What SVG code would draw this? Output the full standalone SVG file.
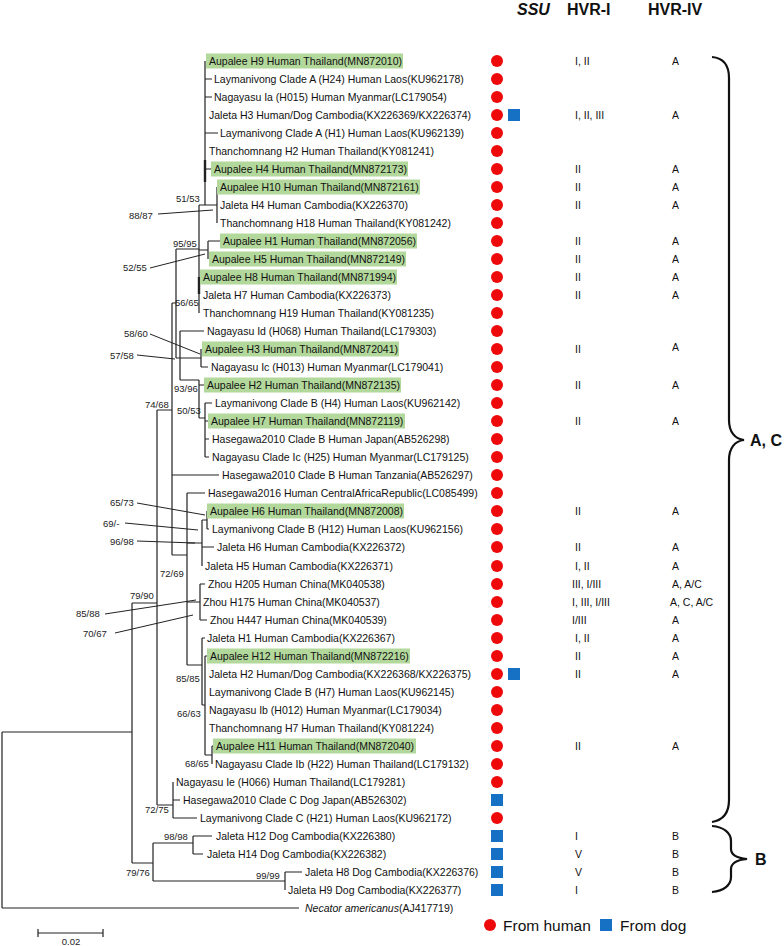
<svg xmlns="http://www.w3.org/2000/svg" xmlns:xlink="http://www.w3.org/1999/xlink" width="784" height="946" viewBox="0 0 784 946">
<style>
text{font-family:"Liberation Sans",Arial,sans-serif;fill:#111}
.t{font-size:10.5px}
.bs{font-size:9.5px;fill:#222}
.hd{font-size:16px;font-weight:bold}
.hl{fill:#b3d89c}
.e{stroke:#222;stroke-width:1.2;fill:none}
.ld{stroke:#222;stroke-width:1;fill:none}
.brc{stroke:#111;stroke-width:2.2;fill:none}
.hum{fill:#ee0a0a}
.dog{fill:#1670c4}
.lg{font-size:15.5px}
</style>
<defs>
<circle id="H" r="6" class="hum"/>
<rect id="D" x="-6" y="-6" width="12" height="12" class="dog"/>
</defs>
<rect width="784" height="946" fill="#fff"/>

<g id="headers">
<text class="hd" x="517" y="15" font-style="italic">SSU</text>
<text class="hd" x="567" y="15">HVR-I</text>
<text class="hd" x="648" y="15">HVR-IV</text>
</g>

<g id="tree" class="e">
<path d="M205,61V205M199,205H217M217,187V223M199,205V313M199,250H208M208,241V259M176,249H199M176,249V358M176,358H180M180,331V380M180,358H201M201,349V367M180,380H199M199,380V418M199,418H205M205,403V457M172,303H176M172,303V555M157,410H172M172,555H187M187,493V665M187,543H202M202,520V566M202,520H207M207,511V529M187,602H200M200,584V620M187,665H202M202,638V705M202,705H205M205,656V755M205,755H212M212,746V764M157,410V805M157,805H173M173,782V818M132,603H157M132,603V863M2,732H132M2,732V908M132,863H153M153,843V881M153,843H193M193,836V854M153,881H285M285,872V890M2,908H299"/>
<path d="M205,79H212M205,97H212M205,133H218M205,169H211M208,241H220M180,331H204M201,367H208M199,385H204M205,403H212M205,421H208M205,439H209M205,457H209M172,475H219M187,493H205M207,529H209M202,547H214M200,584H205M200,620H207M202,638H205M205,656H207M212,746H213M173,800H180M173,818H197M193,836H212M193,854H203M285,872H302"/>
<path d="M205,160V182M199,277V294" stroke-width="2.4"/>
</g>

<g id="bootstrap">
<text class="bs" x="176" y="202">51/53</text>
<text class="bs" x="129" y="219">88/87</text>
<text class="bs" x="173" y="247">95/95</text>
<text class="bs" x="123" y="271">52/55</text>
<text class="bs" x="175" y="306">56/65</text>
<text class="bs" x="124" y="337">58/60</text>
<text class="bs" x="110" y="359">57/58</text>
<text class="bs" x="174" y="392">93/96</text>
<text class="bs" x="145" y="408">74/68</text>
<text class="bs" x="177" y="414">50/53</text>
<text class="bs" x="110" y="506">65/73</text>
<text class="bs" x="103" y="527">69/-</text>
<text class="bs" x="110" y="545">96/98</text>
<text class="bs" x="160" y="577">72/69</text>
<text class="bs" x="130" y="599">79/90</text>
<text class="bs" x="76" y="617">85/88</text>
<text class="bs" x="83" y="637">70/67</text>
<text class="bs" x="176" y="682">85/85</text>
<text class="bs" x="177" y="717">66/63</text>
<text class="bs" x="185" y="767">68/65</text>
<text class="bs" x="145" y="813">72/75</text>
<text class="bs" x="164" y="840">98/98</text>
<text class="bs" x="126" y="876">79/76</text>
<text class="bs" x="256" y="879">99/99</text>
<path class="ld" d="M158,214L213,210M150,268L205,254M150,334L200,354M137,355L175,359M137,503L205,515M125,523L198,530M137,541L195,543M105,614L196,600M115,633L193,615"/>
</g>

<g id="leaf01"><rect class="hl" x="206" y="53.5" width="197" height="15"/><text class="t" x="209" y="65">Aupalee H9 Human Thailand(MN872010)</text><use href="#H" x="497" y="61"/><text class="t" x="575" y="65">I, II</text><text class="t" x="672" y="65">A</text></g>
<g id="leaf02"><text class="t" x="214" y="83">Laymanivong Clade A (H24) Human Laos(KU962178)</text><use href="#H" x="497" y="79"/></g>
<g id="leaf03"><text class="t" x="214" y="101">Nagayasu Ia (H015) Human Myanmar(LC179054)</text><use href="#H" x="497" y="97"/></g>
<g id="leaf04"><text class="t" x="209" y="119">Jaleta H3 Human/Dog Cambodia(KX226369/KX226374)</text><use href="#H" x="497" y="115"/><use href="#D" x="514" y="115"/><text class="t" x="575" y="119">I, II, III</text><text class="t" x="672" y="119">A</text></g>
<g id="leaf05"><text class="t" x="220" y="137">Laymanivong Clade A (H1) Human Laos(KU962139)</text><use href="#H" x="497" y="133"/></g>
<g id="leaf06"><text class="t" x="209" y="155">Thanchomnang H2 Human Thailand(KY081241)</text><use href="#H" x="497" y="151"/></g>
<g id="leaf07"><rect class="hl" x="211" y="161.5" width="197" height="15"/><text class="t" x="214" y="173">Aupalee H4 Human Thailand(MN872173)</text><use href="#H" x="497" y="169"/><text class="t" x="575" y="173">II</text><text class="t" x="672" y="173">A</text></g>
<g id="leaf08"><rect class="hl" x="217" y="179.5" width="203" height="15"/><text class="t" x="220" y="191">Aupalee H10 Human Thailand(MN872161)</text><use href="#H" x="497" y="187"/><text class="t" x="575" y="191">II</text><text class="t" x="672" y="191">A</text></g>
<g id="leaf09"><text class="t" x="220" y="209">Jaleta H4 Human Cambodia(KX226370)</text><use href="#H" x="497" y="205"/><text class="t" x="575" y="209">II</text><text class="t" x="672" y="209">A</text></g>
<g id="leaf10"><text class="t" x="220" y="227">Thanchomnang H18 Human Thailand(KY081242)</text><use href="#H" x="497" y="223"/></g>
<g id="leaf11"><rect class="hl" x="220" y="233.5" width="197" height="15"/><text class="t" x="223" y="245">Aupalee H1 Human Thailand(MN872056)</text><use href="#H" x="497" y="241"/><text class="t" x="575" y="245">II</text><text class="t" x="672" y="245">A</text></g>
<g id="leaf12"><rect class="hl" x="209" y="251.5" width="197" height="15"/><text class="t" x="212" y="263">Aupalee H5 Human Thailand(MN872149)</text><use href="#H" x="497" y="259"/><text class="t" x="575" y="263">II</text><text class="t" x="672" y="263">A</text></g>
<g id="leaf13"><rect class="hl" x="200" y="269.5" width="197" height="15"/><text class="t" x="203" y="281">Aupalee H8 Human Thailand(MN871994)</text><use href="#H" x="497" y="277"/><text class="t" x="575" y="281">II</text><text class="t" x="672" y="281">A</text></g>
<g id="leaf14"><text class="t" x="203" y="299">Jaleta H7 Human Cambodia(KX226373)</text><use href="#H" x="497" y="295"/><text class="t" x="575" y="299">II</text><text class="t" x="672" y="299">A</text></g>
<g id="leaf15"><text class="t" x="203" y="317">Thanchomnang H19 Human Thailand(KY081235)</text><use href="#H" x="497" y="313"/></g>
<g id="leaf16"><text class="t" x="207" y="335">Nagayasu Id (H068) Human Thailand(LC179303)</text><use href="#H" x="497" y="331"/></g>
<g id="leaf17"><rect class="hl" x="202" y="341.5" width="197" height="15"/><text class="t" x="205" y="353">Aupalee H3 Human Thailand(MN872041)</text><use href="#H" x="497" y="349"/><text class="t" x="575" y="353">II</text><text class="t" x="672" y="351">A</text></g>
<g id="leaf18"><text class="t" x="211" y="371">Nagayasu Ic (H013) Human Myanmar(LC179041)</text><use href="#H" x="497" y="367"/></g>
<g id="leaf19"><rect class="hl" x="204" y="377.5" width="197" height="15"/><text class="t" x="207" y="389">Aupalee H2 Human Thailand(MN872135)</text><use href="#H" x="497" y="385"/><text class="t" x="575" y="389">II</text><text class="t" x="672" y="389">A</text></g>
<g id="leaf20"><text class="t" x="215" y="407">Laymanivong Clade B (H4) Human Laos(KU962142)</text><use href="#H" x="497" y="403"/></g>
<g id="leaf21"><rect class="hl" x="208" y="413.5" width="197" height="15"/><text class="t" x="211" y="425">Aupalee H7 Human Thailand(MN872119)</text><use href="#H" x="497" y="421"/><text class="t" x="575" y="425">II</text><text class="t" x="672" y="425">A</text></g>
<g id="leaf22"><text class="t" x="212" y="443">Hasegawa2010 Clade B Human Japan(AB526298)</text><use href="#H" x="497" y="439"/></g>
<g id="leaf23"><text class="t" x="212" y="461">Nagayasu Clade Ic (H25) Human Myanmar(LC179125)</text><use href="#H" x="497" y="457"/></g>
<g id="leaf24"><text class="t" x="222" y="479">Hasegawa2010 Clade B Human Tanzania(AB526297)</text><use href="#H" x="497" y="475"/></g>
<g id="leaf25"><text class="t" x="208" y="497">Hasegawa2016 Human CentralAfricaRepublic(LC085499)</text><use href="#H" x="497" y="493"/></g>
<g id="leaf26"><rect class="hl" x="207" y="503.5" width="197" height="15"/><text class="t" x="210" y="515">Aupalee H6 Human Thailand(MN872008)</text><use href="#H" x="497" y="511"/><text class="t" x="575" y="515">II</text><text class="t" x="672" y="515">A</text></g>
<g id="leaf27"><text class="t" x="212" y="533">Laymanivong Clade B (H12) Human Laos(KU962156)</text><use href="#H" x="497" y="529"/></g>
<g id="leaf28"><text class="t" x="217" y="551">Jaleta H6 Human Cambodia(KX226372)</text><use href="#H" x="497" y="547"/><text class="t" x="575" y="551">II</text><text class="t" x="672" y="551">A</text></g>
<g id="leaf29"><text class="t" x="205" y="570">Jaleta H5 Human Cambodia(KX226371)</text><use href="#H" x="497" y="566"/><text class="t" x="575" y="570">I, II</text><text class="t" x="672" y="570">A</text></g>
<g id="leaf30"><text class="t" x="208" y="588">Zhou H205 Human China(MK040538)</text><use href="#H" x="497" y="584"/><text class="t" x="572" y="588">III, I/III</text><text class="t" x="672" y="588">A, A/C</text></g>
<g id="leaf31"><text class="t" x="203" y="606">Zhou H175 Human China(MK040537)</text><use href="#H" x="497" y="602"/><text class="t" x="572" y="606">I, III, I/III</text><text class="t" x="670" y="606">A, C, A/C</text></g>
<g id="leaf32"><text class="t" x="210" y="624">Zhou H447 Human China(MK040539)</text><use href="#H" x="497" y="620"/><text class="t" x="572" y="624">I/III</text><text class="t" x="672" y="624">A</text></g>
<g id="leaf33"><text class="t" x="207" y="642">Jaleta H1 Human Cambodia(KX226367)</text><use href="#H" x="497" y="638"/><text class="t" x="575" y="642">I, II</text><text class="t" x="672" y="642">A</text></g>
<g id="leaf34"><rect class="hl" x="207" y="648.5" width="203" height="15"/><text class="t" x="210" y="660">Aupalee H12 Human Thailand(MN872216)</text><use href="#H" x="497" y="656"/><text class="t" x="575" y="660">II</text><text class="t" x="672" y="660">A</text></g>
<g id="leaf35"><text class="t" x="209" y="678">Jaleta H2 Human/Dog Cambodia(KX226368/KX226375)</text><use href="#H" x="497" y="674"/><use href="#D" x="514" y="674"/><text class="t" x="575" y="678">II</text><text class="t" x="672" y="678">A</text></g>
<g id="leaf36"><text class="t" x="209" y="696">Laymanivong Clade B (H7) Human Laos(KU962145)</text><use href="#H" x="497" y="692"/></g>
<g id="leaf37"><text class="t" x="209" y="714">Nagayasu Ib (H012) Human Myanmar(LC179034)</text><use href="#H" x="497" y="710"/></g>
<g id="leaf38"><text class="t" x="209" y="732">Thanchomnang H7 Human Thailand(KY081224)</text><use href="#H" x="497" y="728"/></g>
<g id="leaf39"><rect class="hl" x="213" y="738.5" width="203" height="15"/><text class="t" x="216" y="750">Aupalee H11 Human Thailand(MN872040)</text><use href="#H" x="497" y="746"/><text class="t" x="575" y="750">II</text><text class="t" x="672" y="750">A</text></g>
<g id="leaf40"><text class="t" x="215" y="768">Nagayasu Clade Ib (H22) Human Thailand(LC179132)</text><use href="#H" x="497" y="764"/></g>
<g id="leaf41"><text class="t" x="176" y="786">Nagayasu Ie (H066) Human Thailand(LC179281)</text><use href="#H" x="497" y="782"/></g>
<g id="leaf42"><text class="t" x="183" y="804">Hasegawa2010 Clade C Dog Japan(AB526302)</text><use href="#D" x="497" y="800"/></g>
<g id="leaf43"><text class="t" x="200" y="822">Laymanivong Clade C (H21) Human Laos(KU962172)</text><use href="#H" x="497" y="818"/></g>
<g id="leaf44"><text class="t" x="216" y="840">Jaleta H12 Dog Cambodia(KX226380)</text><use href="#D" x="497" y="836"/><text class="t" x="575" y="840">I</text><text class="t" x="672" y="840">B</text></g>
<g id="leaf45"><text class="t" x="207" y="858">Jaleta H14 Dog Cambodia(KX226382)</text><use href="#D" x="497" y="854"/><text class="t" x="575" y="858">V</text><text class="t" x="672" y="858">B</text></g>
<g id="leaf46"><text class="t" x="305" y="876">Jaleta H8 Dog Cambodia(KX226376)</text><use href="#D" x="497" y="872"/><text class="t" x="575" y="876">V</text><text class="t" x="672" y="876">B</text></g>
<g id="leaf47"><text class="t" x="288" y="894">Jaleta H9 Dog Cambodia(KX226377)</text><use href="#D" x="497" y="890"/><text class="t" x="575" y="894">I</text><text class="t" x="672" y="894">B</text></g>
<g id="leaf48"><text class="t" x="305" y="912"><tspan font-style="italic">Necator americanus</tspan>(AJ417719)</text></g>

<g id="brace-AC">
<path class="brc" d="M712,57C724,58 729,66 729,78L729,420C729,432 735,439 744,440C735,441 729,448 729,460L729,800C729,812 724,820 712,822"/>
<text class="hd" x="750" y="446">A, C</text>
</g>
<g id="brace-B">
<path class="brc" d="M712,826C724,827 731,833 731,841L731,849C731,855 737,858 747,859C737,860 731,863 731,869L731,877C731,885 724,891 712,892"/>
<text class="hd" x="755" y="865">B</text>
</g>

<g id="scale">
<path class="e" d="M38,933H103M38,929V937M103,929V937"/>
<text class="bs" x="71" y="945" text-anchor="middle">0.02</text>
</g>

<g id="legend">
<use href="#H" x="490" y="925"/>
<text class="lg" x="503" y="931">From human</text>
<use href="#D" x="606" y="925"/>
<text class="lg" x="620" y="931">From dog</text>
</g>
</svg>
